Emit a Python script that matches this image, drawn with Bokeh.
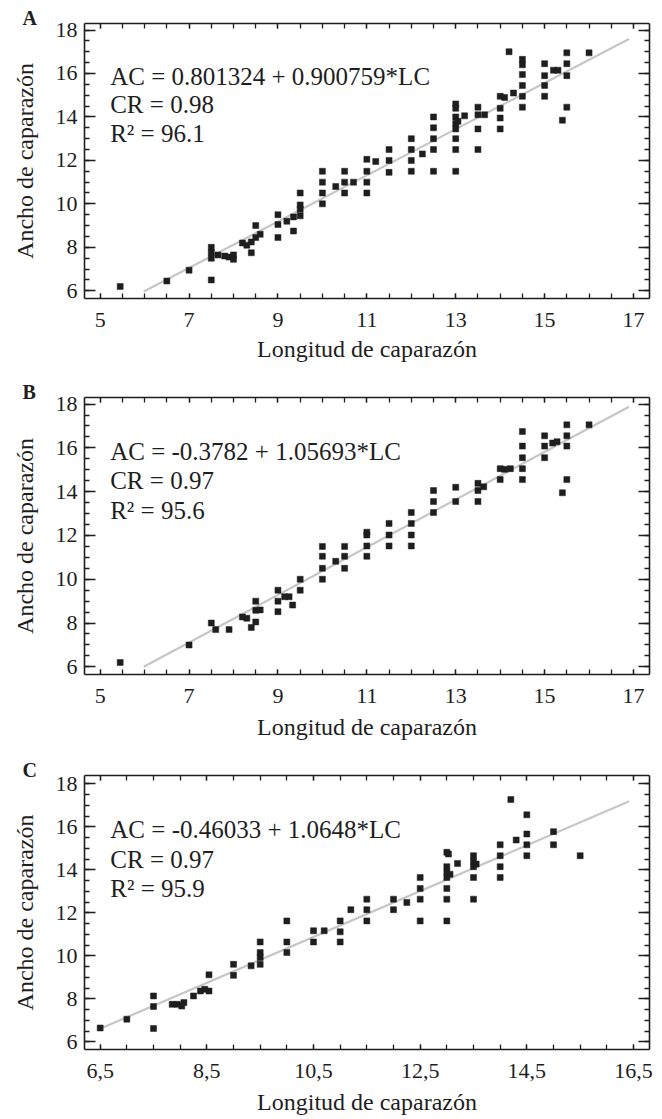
from bokeh.plotting import figure
from bokeh.layouts import column
from bokeh.models import FixedTicker, LinearAxis, Label, Range1d, CustomJSTickFormatter
from bokeh.embed import file_html
from bokeh.resources import INLINE
import numpy as np

# ---------------- data ----------------
# Panel A
a_lc = [5.45, 6.5, 7.0, 7.5, 7.5, 7.5, 7.5, 7.65, 7.8, 7.9, 8.0, 8.0, 8.2, 8.3, 8.4, 8.4,
        8.5, 8.5, 8.6, 9.0, 9.0, 9.0, 9.2, 9.35, 9.35, 9.5, 9.5, 9.5, 9.5,
        10.0, 10.0, 10.0, 10.0, 10.3, 10.5, 10.5, 10.5, 10.7, 11.0, 11.0, 11.0, 11.0, 11.2,
        11.5, 11.5, 11.5, 12.0, 12.0, 12.0, 12.0, 12.25, 12.5, 12.5, 12.5, 12.5, 12.5,
        13.0, 13.0, 13.0, 13.0, 13.0, 13.0, 13.0, 13.0, 13.05, 13.2,
        13.5, 13.5, 13.5, 13.5, 13.65, 14.0, 14.0, 14.0, 14.0, 14.1, 14.3, 14.2,
        14.5, 14.5, 14.5, 14.5, 14.5, 14.5, 15.0, 15.0, 15.0, 15.0, 15.2, 15.3, 15.4,
        15.5, 15.5, 15.5, 15.5, 16.0]
a_ac = [6.2, 6.45, 6.95, 6.5, 8.0, 7.75, 7.5, 7.65, 7.6, 7.55, 7.45, 7.65, 8.2, 8.1, 8.25, 7.75,
        9.0, 8.45, 8.6, 9.5, 9.05, 8.45, 9.2, 9.4, 8.75, 10.5, 9.95, 9.75, 9.45,
        11.5, 11.0, 10.5, 10.0, 10.8, 11.5, 11.0, 10.5, 11.0, 12.05, 11.5, 11.0, 10.5, 11.95,
        12.5, 12.0, 11.45, 13.0, 12.5, 12.0, 11.5, 12.3, 14.0, 13.5, 13.0, 12.5, 11.5,
        14.6, 14.4, 14.0, 13.7, 13.45, 13.0, 12.5, 11.5, 13.8, 14.05,
        14.45, 14.1, 13.45, 12.5, 14.1, 14.4, 13.95, 13.45, 14.95, 14.9, 15.1, 17.0,
        16.4, 16.65, 15.95, 15.45, 14.95, 14.45, 16.45, 15.9, 15.45, 14.95, 16.15, 16.15, 13.85,
        16.95, 16.45, 15.9, 14.45, 16.95]
a_line_x = [5.98, 16.9]
a_line_y = [5.97, 17.59]
a_text = ["AC = 0.801324 + 0.900759*LC", "CR = 0.98", "R\u00b2 = 96.1"]

# Panel B
b_lc = [5.45, 7.0, 7.5, 7.6, 7.9, 8.2, 8.3, 8.4, 8.5, 8.5, 8.5, 8.6, 9.0, 9.0, 9.0, 9.15, 9.25,
        9.33, 9.5, 9.5, 10.0, 10.0, 10.0, 10.0, 10.3, 10.5, 10.5, 10.5, 11.0, 11.0, 11.0, 11.0,
        11.5, 11.5, 11.5, 12.0, 12.0, 12.0, 12.0, 12.5, 12.5, 12.5, 13.0, 13.0, 13.5, 13.5, 13.5,
        13.63, 14.0, 14.0, 14.1, 14.23, 14.5, 14.5, 14.5, 14.5, 14.5, 15.0, 15.0, 15.0, 15.18,
        15.28, 15.4, 15.5, 15.5, 15.5, 15.5, 16.0]
b_ac = [6.2, 7.0, 8.0, 7.7, 7.7, 8.28, 8.22, 7.8, 9.0, 8.58, 8.05, 8.6, 9.5, 9.0, 8.52, 9.2, 9.2,
        8.82, 10.0, 9.5, 11.5, 11.05, 10.5, 10.0, 10.82, 11.5, 11.05, 10.5, 12.15, 12.02, 11.52, 11.05,
        12.55, 12.02, 11.52, 13.05, 12.55, 12.02, 11.52, 14.05, 13.55, 13.05, 14.2, 13.55, 14.38, 14.05, 13.55,
        14.22, 15.05, 14.55, 15.02, 15.05, 16.75, 16.08, 15.55, 15.05, 14.55, 16.55, 16.08, 15.55, 16.22,
        16.28, 13.95, 17.05, 16.55, 16.08, 14.55, 17.05]
b_line_x = [5.98, 16.9]
b_line_y = [6.0, 17.88]
b_text = ["AC = -0.3782 + 1.05693*LC", "CR = 0.97", "R\u00b2 = 95.6"]

# Panel C
c_lc = [6.5, 7.0, 7.5, 7.5, 7.5, 7.85, 7.95, 8.03, 8.07, 8.25, 8.38, 8.46, 8.54, 8.54, 9.0, 9.0,
        9.33, 9.5, 9.5, 9.5, 9.5, 10.0, 10.0, 10.0, 10.5, 10.5, 10.7, 11.0, 11.0, 11.0, 11.2,
        11.5, 11.5, 11.5, 12.0, 12.0, 12.25, 12.5, 12.5, 12.5, 12.5, 13.0, 13.03, 13.0, 13.0,
        13.0, 13.0, 13.0, 13.0, 13.06, 13.2, 13.5, 13.5, 13.5, 13.5, 13.5, 13.55, 14.0, 14.0,
        14.0, 14.0, 14.2, 14.3, 14.5, 14.5, 14.5, 14.5, 15.0, 15.0, 15.5]
c_ac = [6.65, 7.06, 8.14, 7.65, 6.63, 7.75, 7.75, 7.67, 7.83, 8.14, 8.37, 8.45, 8.37, 9.12, 9.61, 9.1,
        9.54, 10.65, 10.16, 9.93, 9.61, 11.63, 10.65, 10.16, 11.17, 10.65, 11.17, 11.63, 11.12, 10.65, 12.15,
        12.64, 12.15, 11.63, 12.64, 12.15, 12.49, 13.65, 13.14, 12.64, 11.63, 14.82, 14.74, 14.15, 13.89,
        13.65, 13.14, 12.64, 11.63, 13.8, 14.3, 14.66, 14.4, 14.15, 13.65, 12.64, 14.27, 15.17, 14.66,
        14.15, 13.65, 17.27, 15.39, 16.56, 15.67, 15.17, 14.66, 15.78, 15.17, 14.66]
c_line_x = [6.5, 16.42]
c_line_y = [6.62, 17.19]
c_text = ["AC = -0.46033 + 1.0648*LC", "CR = 0.97", "R\u00b2 = 95.9"]

# ticks
ab_xticks = [5, 7, 9, 11, 13, 15, 17]
c_xticks = [6.5, 8.5, 10.5, 12.5, 14.5, 16.5]
c_xtick_labels = ["6,5", "8,5", "10,5", "12,5", "14,5", "16,5"]
yticks = [6, 8, 10, 12, 14, 16, 18]

FONT = "Liberation Serif"
INK = "#1e1e1e"


def style_axis(ax, major_in, show_labels=True):
    ax.axis_line_color = INK
    ax.axis_line_width = 1.6
    ax.major_tick_in = major_in
    ax.major_tick_out = 0
    ax.minor_tick_in = 5
    ax.minor_tick_out = 0
    ax.major_tick_line_color = INK
    ax.minor_tick_line_color = INK
    ax.major_tick_line_width = 1.3
    ax.minor_tick_line_width = 1.3
    ax.major_label_text_font = FONT
    ax.major_label_text_color = INK
    ax.major_label_text_font_size = "22px"
    ax.axis_label_text_font = FONT
    ax.axis_label_text_font_style = "normal"
    ax.axis_label_text_font_size = "24px"
    ax.axis_label_text_color = INK
    if not show_labels:
        ax.major_label_text_font_size = "0px"
        ax.major_label_text_color = None
        ax.major_label_standoff = 0


def panel(letter, lc, ac, lx, ly, xr, yr, xticks, texts, text_x, text_dy,
          top, frame_h, bottom, xlabels=None, title_standoff=6):
    p = figure(frame_width=565, frame_height=frame_h, width=662, height=top + frame_h + bottom,
               min_border_left=84, min_border_right=13, min_border_top=top, min_border_bottom=bottom,
               x_range=Range1d(*xr), y_range=Range1d(*yr),
               x_axis_location=None, y_axis_location=None,
               output_backend="svg", toolbar_location=None)
    p.outline_line_color = None
    p.background_fill_color = "white"
    p.border_fill_color = "white"
    p.xgrid.visible = False
    p.ygrid.visible = False

    xminor = list(np.arange(xr[0] - (xr[0] % 0.5) + 0.5, xr[1], 0.5))
    yminor = list(np.arange(6.0, 18.01, 0.5))

    bx = LinearAxis(ticker=FixedTicker(ticks=xticks, minor_ticks=xminor),
                    axis_label="Longitud de caparazón")
    if xlabels is not None:
        bx.formatter = CustomJSTickFormatter(args=dict(tick_vals=xticks, tick_texts=xlabels), code="""
            for (let i = 0; i < tick_vals.length; i++) {
                if (Math.abs(tick_vals[i] - tick) < 1e-6) { return tick_texts[i]; }
            }
            return '';
        """)
    style_axis(bx, 5)
    bx.major_label_standoff = 14
    bx.axis_label_standoff = title_standoff
    p.add_layout(bx, "below")

    tx = LinearAxis(ticker=FixedTicker(ticks=xticks, minor_ticks=xminor))
    style_axis(tx, 5, show_labels=False)
    p.add_layout(tx, "above")

    ly_ax = LinearAxis(ticker=FixedTicker(ticks=yticks, minor_ticks=yminor),
                       axis_label="Ancho de caparazón")
    style_axis(ly_ax, 11)
    ly_ax.major_label_standoff = 7
    ly_ax.axis_label_standoff = 15
    p.add_layout(ly_ax, "left")

    ry = LinearAxis(ticker=FixedTicker(ticks=yticks, minor_ticks=yminor))
    style_axis(ry, 11, show_labels=False)
    p.add_layout(ry, "right")

    p.line(lx, ly, line_color="#c6c6c6", line_width=2.2)
    p.scatter(lc, ac, marker="square", size=6, fill_color=INK, line_color=INK, line_width=0.5)

    # equation block: vertical centres given as pixel offsets below the frame top
    pxu = frame_h / (yr[1] - yr[0])
    for t, dy in zip(texts, text_dy):
        p.add_layout(Label(x=text_x, y=yr[1] - dy / pxu, text=t, text_font=FONT,
                           text_font_size="25px", text_color=INK,
                           text_baseline="middle", text_align="left"))

    p.title.text = letter
    p.title.align = "left"
    p.title.offset = -62
    p.title.standoff = -10
    p.title.text_font = FONT
    p.title.text_font_size = "20px"
    p.title.text_font_style = "bold"
    p.title.text_color = INK
    return p


pa = panel("A", a_lc, a_ac, a_line_x, a_line_y, (4.647, 17.36), (5.645, 18.30), ab_xticks,
           a_text, 5.225, [52.5, 81.0, 109.5], top=23, frame_h=275, bottom=72)
pb = panel("B", b_lc, b_ac, b_line_x, b_line_y, (4.647, 17.36), (5.65, 18.30), ab_xticks,
           b_text, 5.225, [53.5, 83.3, 113.0], top=27, frame_h=277, bottom=72, title_standoff=8)
pc = panel("C", c_lc, c_ac, c_line_x, c_line_y, (6.206, 16.80), (5.65, 18.39), c_xticks,
           c_text, 6.69, [54.0, 83.8, 113.3], top=29, frame_h=274, bottom=70,
           xlabels=c_xtick_labels, title_standoff=8)

layout = column(pa, pb, pc, spacing=0)
open("out.html", "w").write(file_html(layout, INLINE))
